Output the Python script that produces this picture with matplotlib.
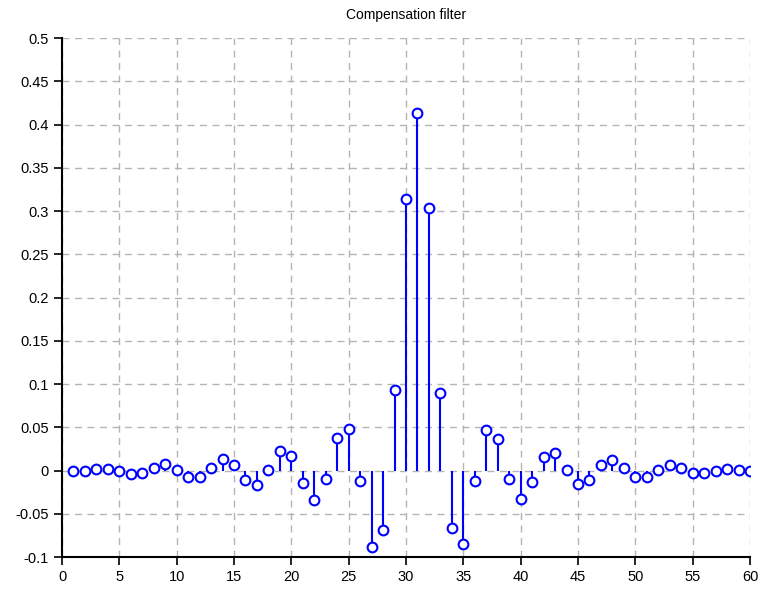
import matplotlib
matplotlib.use("Agg")
import matplotlib.pyplot as plt
import numpy as np

plt.rcParams['font.family'] = ['Liberation Sans', 'DejaVu Sans']

n = list(range(1, 61))
h = [-0.001, -0.001, 0.0015, 0.002, 0.0, -0.004, -0.003, 0.003, 0.007, 0.001,
     -0.008, -0.008, 0.003, 0.013, 0.006, -0.011, -0.017, 0.001, 0.022, 0.017,
     -0.014, -0.034, -0.010, 0.038, 0.0485, -0.012, -0.088, -0.069, 0.093, 0.314,
     0.413, 0.303, 0.090, -0.067, -0.085, -0.012, 0.0465, 0.037, -0.010, -0.033,
     -0.013, 0.016, 0.0205, 0.001, -0.0155, -0.0105, 0.006, 0.012, 0.003, -0.0075,
     -0.007, 0.001, 0.0065, 0.003, -0.0025, -0.003, 0.0, 0.002, 0.001, 0.0]

xticks = list(range(0, 61, 5))
yticks = [-0.1, -0.05, 0, 0.05, 0.1, 0.15, 0.2, 0.25, 0.3, 0.35, 0.4, 0.45, 0.5]
yticklabels = ['-0.1', '-0.05', '0', '0.05', '0.1', '0.15', '0.2', '0.25', '0.3', '0.35', '0.4', '0.45', '0.5']

fig = plt.figure(figsize=(7.6, 5.93), dpi=100)
ax = fig.add_axes([0.0816, 0.0607, 0.9052, 0.8752])

markerline, stemlines, baseline = ax.stem(n, h, basefmt=' ')
plt.setp(stemlines, color='#0000ff', linewidth=1.5)
plt.setp(markerline, marker='o', markersize=7, markerfacecolor='white',
         markeredgecolor='#0000ff', markeredgewidth=1.5, zorder=3)

ax.set_xlim(0, 60)
ax.set_ylim(-0.1, 0.5)
ax.set_xticks(xticks)
ax.set_yticks(yticks)
ax.set_yticklabels(yticklabels)
ax.tick_params(direction='out', length=6, width=1.2, labelsize=10.5, colors='black')
ax.grid(True, color='#b4b4b4', linestyle=(0, (5, 4)), linewidth=1.0)
ax.set_axisbelow(True)
for s in ['top', 'right']:
    ax.spines[s].set_visible(False)
for s in ['left', 'bottom']:
    ax.spines[s].set_linewidth(1.5)

ax.set_title('Compensation filter', fontsize=10, pad=14)

fig.savefig('out.png', dpi=100)
